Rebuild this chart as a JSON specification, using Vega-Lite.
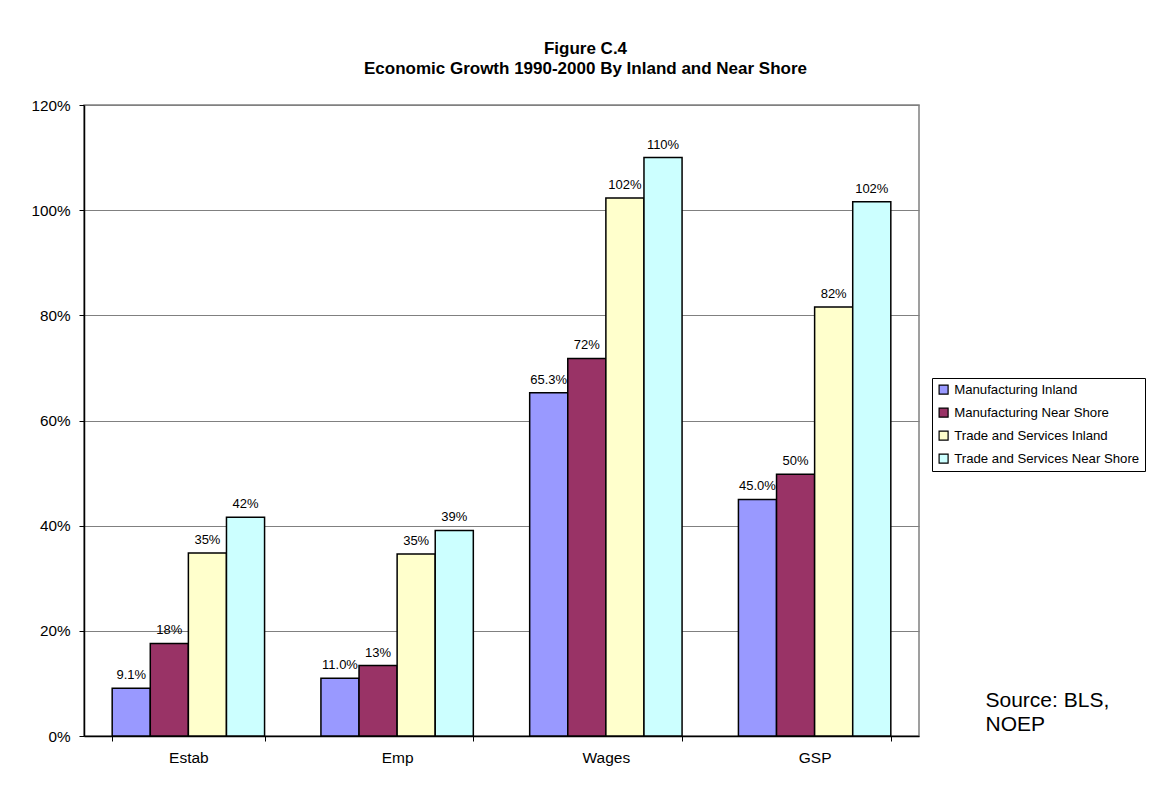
{
  "$schema": "https://vega.github.io/schema/vega-lite/v6.json",
  "autosize": {"type": "none"},
  "width": 835,
  "height": 631,
  "padding": {"left": 84, "top": 105, "right": 253, "bottom": 55},
  "background": "white",
  "title": {
    "text": ["Figure C.4", "Economic Growth 1990-2000 By Inland and Near Shore"],
    "font": "Liberation Sans",
    "fontSize": 17,
    "fontWeight": "bold",
    "color": "black",
    "anchor": "middle",
    "dx": 84,
    "offset": 20,
    "lineHeight": 20
  },
  "data": {
    "values": [
      {"category": "Estab", "series": "Manufacturing Inland", "value": 0.091},
      {"category": "Estab", "series": "Manufacturing Near Shore", "value": 0.176},
      {"category": "Estab", "series": "Trade and Services Inland", "value": 0.348},
      {"category": "Estab", "series": "Trade and Services Near Shore", "value": 0.416},
      {"category": "Emp", "series": "Manufacturing Inland", "value": 0.110},
      {"category": "Emp", "series": "Manufacturing Near Shore", "value": 0.134},
      {"category": "Emp", "series": "Trade and Services Inland", "value": 0.346},
      {"category": "Emp", "series": "Trade and Services Near Shore", "value": 0.391},
      {"category": "Wages", "series": "Manufacturing Inland", "value": 0.653},
      {"category": "Wages", "series": "Manufacturing Near Shore", "value": 0.718},
      {"category": "Wages", "series": "Trade and Services Inland", "value": 1.023},
      {"category": "Wages", "series": "Trade and Services Near Shore", "value": 1.100},
      {"category": "GSP", "series": "Manufacturing Inland", "value": 0.450},
      {"category": "GSP", "series": "Manufacturing Near Shore", "value": 0.498},
      {"category": "GSP", "series": "Trade and Services Inland", "value": 0.816},
      {"category": "GSP", "series": "Trade and Services Near Shore", "value": 1.016}
    ]
  },
  "encoding": {
    "x": {
      "field": "category",
      "type": "nominal",
      "sort": ["Estab", "Emp", "Wages", "GSP"],
      "scale": {"paddingInner": 0.27, "paddingOuter": 0.135},
      "axis": {
        "title": ["Source: BLS,", "NOEP"],
        "titleFont": "Liberation Sans",
        "titleFontSize": 21,
        "titleFontWeight": "normal",
        "titleColor": "black",
        "titleX": 901,
        "titleY": -30,
        "titleAlign": "left",
        "titleAnchor": "start",
        "titleBaseline": "alphabetic",
        "titleLineHeight": 24,
        "labelAngle": 0,
        "labelFont": "Liberation Sans",
        "labelFontSize": 15.5,
        "labelColor": "black",
        "labelPadding": 9,
        "domainColor": "black",
        "domainWidth": 1.5,
        "tickColor": "black",
        "tickSize": 5,
        "tickBand": "extent",
        "grid": false
      }
    },
    "xOffset": {"field": "series", "type": "nominal", "sort": ["Manufacturing Inland", "Manufacturing Near Shore", "Trade and Services Inland", "Trade and Services Near Shore"], "scale": {"paddingInner": 0, "paddingOuter": 0}},
    "y": {
      "field": "value",
      "type": "quantitative",
      "scale": {"domain": [0, 1.2], "nice": false},
      "axis": {
        "title": null,
        "format": ".0%",
        "values": [0, 0.2, 0.4, 0.6, 0.8, 1.0, 1.2],
        "labelFont": "Liberation Sans",
        "labelFontSize": 15.3,
        "labelColor": "black",
        "labelPadding": 9,
        "domainColor": "black",
        "domainWidth": 1.5,
        "tickColor": "black",
        "tickSize": 5,
        "grid": true,
        "gridColor": "#808080",
        "gridWidth": 1.2
      }
    }
  },
  "layer": [
    {
      "mark": {"type": "bar", "stroke": "black", "strokeWidth": 1.5},
      "encoding": {
        "color": {
          "field": "series",
          "type": "nominal",
          "sort": ["Manufacturing Inland", "Manufacturing Near Shore", "Trade and Services Inland", "Trade and Services Near Shore"],
          "scale": {
            "domain": ["Manufacturing Inland", "Manufacturing Near Shore", "Trade and Services Inland", "Trade and Services Near Shore"],
            "range": ["#9999FF", "#993366", "#FFFFCC", "#CCFFFF"]
          },
          "legend": {
            "title": null,
            "orient": "none",
            "legendX": 848,
            "legendY": 273,
            "symbolType": "square",
            "symbolSize": 81,
            "symbolStrokeColor": "black",
            "symbolStrokeWidth": 1.2,
            "symbolOpacity": 1,
            "labelFont": "Liberation Sans",
            "labelFontSize": 13.2,
            "labelColor": "black",
            "labelOffset": 4,
            "rowPadding": 8,
            "padding": 5,
            "strokeColor": "black",
            "fillColor": "white",
            "labelLimit": 300
          }
        }
      }
    },
    {
      "transform": [{"filter": "datum.series === 'Manufacturing Inland'"}],
      "mark": {"type": "text", "baseline": "alphabetic", "dy": -9, "font": "Liberation Sans", "fontSize": 13, "color": "black"},
      "encoding": {"text": {"field": "value", "type": "quantitative", "format": ".1%"}}
    },
    {
      "transform": [{"filter": "datum.series !== 'Manufacturing Inland'"}],
      "mark": {"type": "text", "baseline": "alphabetic", "dy": -9, "font": "Liberation Sans", "fontSize": 13, "color": "black"},
      "encoding": {"text": {"field": "value", "type": "quantitative", "format": ".0%"}}
    }
  ],
  "config": {
    "view": {"stroke": "#808080", "strokeWidth": 1.5}
  }
}
